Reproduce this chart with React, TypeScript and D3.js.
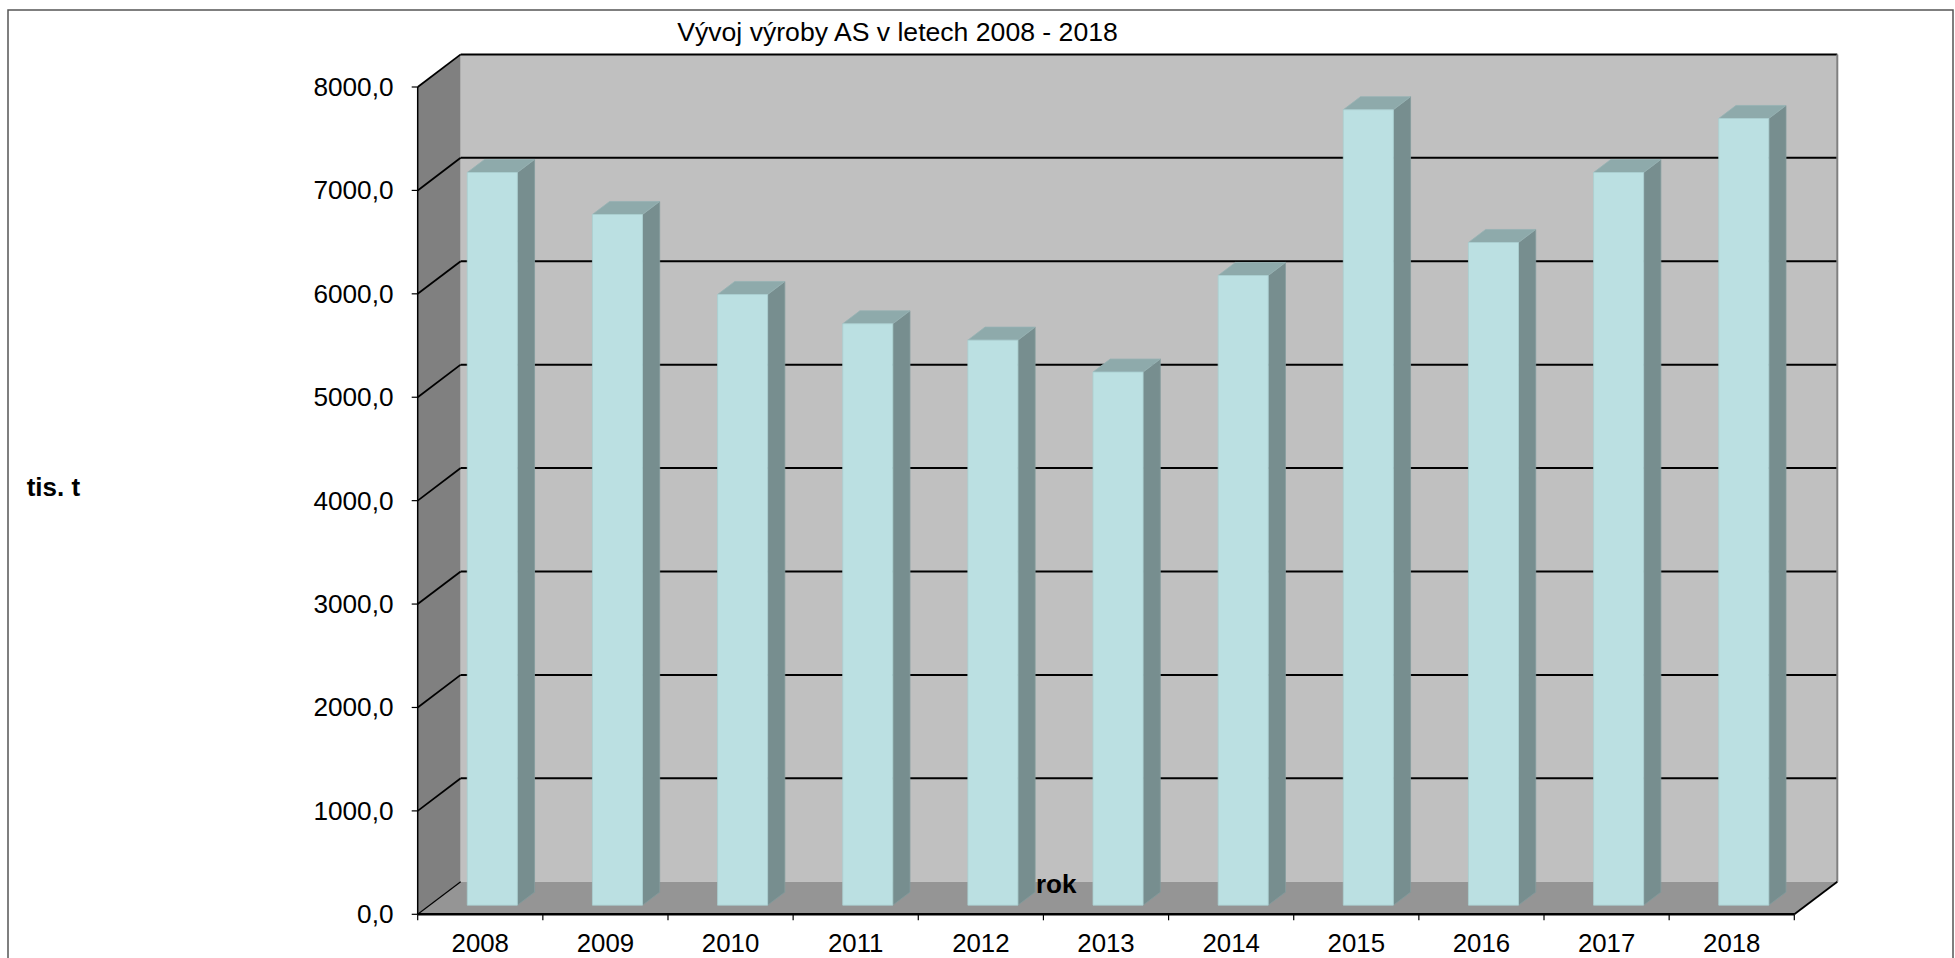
import React from 'react';
import * as d3 from 'd3';

const years = ['2008', '2009', '2010', '2011', '2012', '2013', '2014', '2015', '2016', '2017', '2018'];
const values = [7085, 6679, 5905, 5622, 5464, 5155, 6089, 7692, 6408, 7085, 7607];
const yTicks = [0, 1000, 2000, 3000, 4000, 5000, 6000, 7000, 8000];
const title = 'Vývoj výroby AS v letech 2008 - 2018';
const yTitle = 'tis. t';
const xTitle = 'rok';

const W = 1955, H = 958;
const X0 = 417.7, X1 = 1794.3, YB = 914.3, YT = 87;
const DX = 43, DY = -32.6;
const F1 = 0.28, F2 = 0.68;
const FONT = '"Liberation Sans", Arial, sans-serif';

const x = d3.scaleBand<string>().domain(years).range([X0, X1]).paddingInner(0.6).paddingOuter(0.3);
const y = d3.scaleLinear().domain([0, 8000]).range([YB, YT]);
const fmt = (v: number) => d3.format('.1f')(v).replace('.', ',');
const p = (px: number, py: number, d: number): [number, number] => [px + DX * d, py + DY * d];
const poly = (pts: [number, number][]) => pts.map((q) => q.join(',')).join(' ');

export default function App() {
  const bw = x.bandwidth();
  const step = x.step();
  const y0 = y(0), y8 = y(8000);
  const boundaries = d3.range(years.length + 1).map((i) => X0 + i * step);
  return (
    <svg width={W} height={H} style={{ position: 'absolute', left: 0, top: 0, background: '#fff' }}>
      <rect x={8} y={10} width={1945} height={970} fill="#fff" stroke="#555" strokeWidth={1.5} />
      {/* title */}
      <text x={897.5} y={40.7} fontFamily={FONT} fontSize={26.6} textAnchor="middle" fill="#000">{title}</text>
      {/* left wall */}
      <polygon points={poly([p(X0, y0, 0), p(X0, y0, 1), p(X0, y8, 1), p(X0, y8, 0)])} fill="#808080" />
      {/* back wall */}
      <polygon points={poly([p(X0, y0, 1), p(X1, y0, 1), p(X1, y8, 1), p(X0, y8, 1)])} fill="#c0c0c0" />
      {/* floor */}
      <polygon points={poly([p(X0, y0, 0), p(X1, y0, 0), p(X1, y0, 1), p(X0, y0, 1)])} fill="#959595" />
      {/* gridlines */}
      {yTicks.map((t) => {
        const a = p(X0, y(t), 0), b = p(X0, y(t), 1), c = p(X1, y(t), 1);
        const isZero = t === 0;
        return (
          <g key={t}>
            <line x1={a[0]} y1={a[1]} x2={b[0]} y2={b[1]} stroke="#000" strokeWidth={isZero ? 1.2 : 1.8} />
            {!isZero && <line x1={b[0]} y1={b[1]} x2={c[0]} y2={c[1]} stroke="#000" strokeWidth={2} />}
          </g>
        );
      })}
      {/* right edge of back wall */}
      <line x1={X1 + DX} y1={y8 + DY} x2={X1 + DX} y2={y0 + DY} stroke="#808080" strokeWidth={2} />
      {/* left wall front edge */}
      <line x1={X0} y1={y8} x2={X0} y2={y0} stroke="#000" strokeWidth={1.5} />
      {/* bars */}
      {years.map((yr, i) => {
        const xl = x(yr)!, xr = xl + bw;
        const yt = y(values[i]);
        const front = [p(xl, yt, F1), p(xr, yt, F1), p(xr, y0, F1), p(xl, y0, F1)];
        const side = [p(xr, y0, F1), p(xr, y0, F2), p(xr, yt, F2), p(xr, yt, F1)];
        const top = [p(xl, yt, F1), p(xr, yt, F1), p(xr, yt, F2), p(xl, yt, F2)];
        return (
          <g key={yr}>
            <polygon points={poly(side)} fill="#778e8f" stroke="#849c9d" strokeWidth={0.8} />
            <polygon points={poly(top)} fill="#8eaaab" stroke="#97b3b4" strokeWidth={0.8} />
            <polygon points={poly(front)} fill="#bbe0e2" stroke="#a9cfd1" strokeWidth={0.8} />
          </g>
        );
      })}
      {/* front floor axis */}
      <line x1={X0} y1={y0} x2={X1} y2={y0} stroke="#000" strokeWidth={2.5} />
      <line x1={X1} y1={y0} x2={X1 + DX} y2={y0 + DY} stroke="#000" strokeWidth={1.8} />
      {boundaries.map((bx, i) => (
        <line key={i} x1={bx} y1={y0} x2={bx} y2={y0 + 6} stroke="#000" strokeWidth={1.2} />
      ))}
      {/* y ticks & labels */}
      {yTicks.map((t) => (
        <g key={'yt' + t}>
          <line x1={X0 - 6} y1={y(t)} x2={X0} y2={y(t)} stroke="#000" strokeWidth={1.2} />
          <text x={393.5} y={y(t) + 9} fontFamily={FONT} fontSize={26.2} textAnchor="end" fill="#000">{fmt(t)}</text>
        </g>
      ))}
      {/* x labels */}
      {years.map((yr) => (
        <text key={'xl' + yr} x={x(yr)! + bw / 2} y={951.7} fontFamily={FONT} fontSize={25.8} textAnchor="middle" fill="#000">{yr}</text>
      ))}
      <text x={26.7} y={496} fontFamily={FONT} fontSize={26} fontWeight="bold" fill="#000">{yTitle}</text>
      <text x={1036} y={892.7} fontFamily={FONT} fontSize={26} fontWeight="bold" fill="#000">{xTitle}</text>
    </svg>
  );
}
